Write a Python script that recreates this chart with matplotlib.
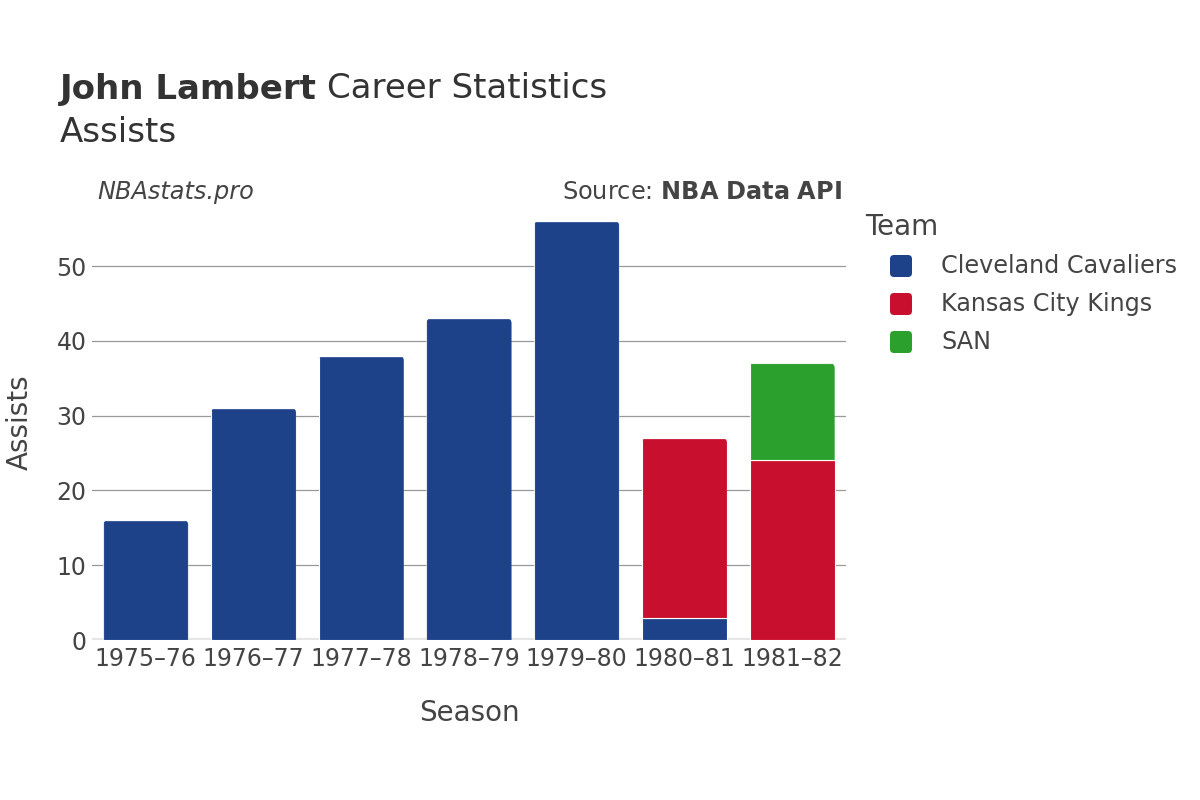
import matplotlib
matplotlib.use("Agg")
import matplotlib.pyplot as plt
from matplotlib.patches import FancyBboxPatch
import numpy as np

seasons = ["1975–76", "1976–77", "1977–78", "1978–79", "1979–80", "1980–81", "1981–82"]
teams = ["Cleveland Cavaliers", "Kansas City Kings", "SAN"]
colors = ["#1d428a", "#c8102e", "#2ca02c"]
cle = [16, 31, 38, 43, 56, 3, 0]
kck = [0, 0, 0, 0, 0, 24, 24]
san = [0, 0, 0, 0, 0, 0, 13]
series = [cle, kck, san]
yticks = [0, 10, 20, 30, 40, 50]

plt.rcParams['font.family'] = ['DejaVu Sans']
fig = plt.figure(figsize=(12, 8), dpi=100)
W, H = 1200, 800
ax_left, ax_right, ax_top, ax_bot = 92, 846, 205, 640
ax = fig.add_axes([ax_left / W, 1 - ax_bot / H, (ax_right - ax_left) / W, (ax_bot - ax_top) / H])

ymax = (ax_bot - ax_top) / ((640 - 266) / 50)
ax.set_ylim(0, ymax)
ax.set_xlim(-0.5, len(seasons) - 0.5)

px_per_x = (ax_right - ax_left) / len(seasons)
px_per_y = (ax_bot - ax_top) / ymax
rad_px = 5
rx = rad_px / px_per_x
ry = rad_px / px_per_y

x = np.arange(len(seasons))
bottom = np.zeros(len(seasons))
top_patch = [None] * len(seasons)
for vals, col in zip(series, colors):
    v = np.array(vals, dtype=float)
    bars = ax.bar(x, v, bottom=bottom, width=0.79, color=col, edgecolor="white", linewidth=0.8, zorder=3)
    for i, (b, val) in enumerate(zip(bars, v)):
        if val > 0:
            top_patch[i] = b
    bottom += v

# round the top corners of each stack with a clip path
for b in top_patch:
    x0, y0, w, h = b.get_x(), b.get_y(), b.get_width(), b.get_height()
    top = y0 + h
    lo = y0 - 5
    clip = FancyBboxPatch((x0 + rx, lo + ry), w - 2 * rx, (top - ry) - (lo + ry),
                          boxstyle=f"round,pad={rx},rounding_size={rx}",
                          mutation_aspect=ry / rx, transform=ax.transData)
    b.set_clip_path(clip)

ax.set_yticks(yticks)
ax.set_xticks(x)
ax.set_xticklabels(seasons)
ax.grid(axis="y", color="#999999", linewidth=0.9, zorder=0)
ax.axhline(0, color="#e6e6e6", linewidth=3, zorder=2)
for s in ax.spines.values():
    s.set_visible(False)
ax.tick_params(axis="both", length=0, labelsize=17, colors="#444444", pad=5)
ax.tick_params(axis="y", pad=4)
ax.set_xlabel("Season", fontsize=20, color="#444444", labelpad=20)
ax.set_ylabel("Assists", fontsize=20, color="#444444", labelpad=16)

t1 = fig.text(60 / W, 1 - 89 / H, "John Lambert", fontsize=24.5, fontweight="bold", color="#333333", va="center")
fig.canvas.draw()
bb = t1.get_window_extent(fig.canvas.get_renderer())
fig.text((bb.x1 + 10) / W, 1 - 89 / H, "Career Statistics", fontsize=24.5, color="#333333", va="center")
fig.text(60 / W, 1 - 132 / H, "Assists", fontsize=24.5, color="#333333", va="center")
fig.text(97 / W, 1 - 192 / H, "NBAstats.pro", fontsize=17.3, style="italic", color="#444444", va="center")
fig.text(842 / W, 1 - 192 / H, "Source: $\\bf{NBA\\ Data\\ API}$", fontsize=17.3, color="#444444", va="center", ha="right")

# legend (manual placement)
fig.text(865 / W, 1 - 227 / H, "Team", fontsize=20, color="#444444", va="center")
for k, (team, col) in enumerate(zip(teams, colors)):
    yc = 266 + 38 * k
    fig.add_artist(FancyBboxPatch(((890 + 3) / W, 1 - (yc + 8) / H), 16 / W, 16 / H,
                                  boxstyle=f"round,pad={3 / W},rounding_size={4 / W}",
                                  mutation_aspect=W / H, transform=fig.transFigure,
                                  facecolor=col, edgecolor="none"))
    fig.text(941 / W, 1 - yc / H, team, fontsize=17.2, color="#444444", va="center")

fig.savefig("out.png", dpi=100)
